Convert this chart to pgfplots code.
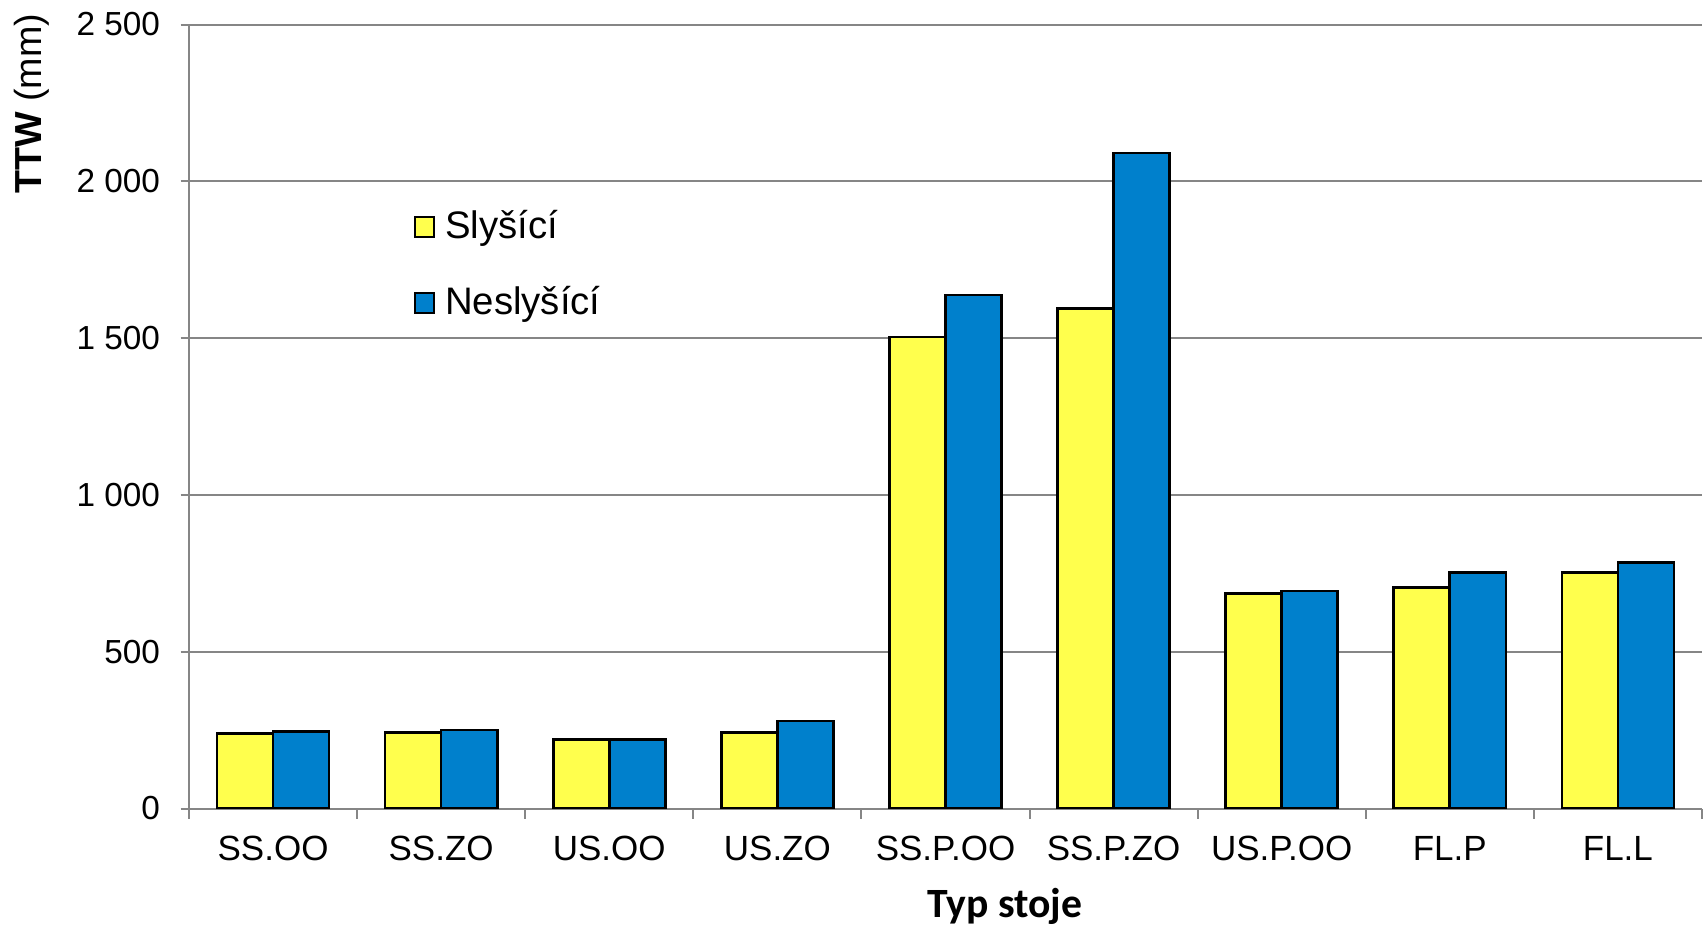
\documentclass[border=0pt]{standalone}
\usepackage{pgfplots}
\pgfplotsset{compat=1.18}
\usepackage{fontspec}
\setmainfont{Liberation Sans}
\newfontfamily\carlito{Carlito}
\definecolor{slys}{HTML}{FFFF4D}
\definecolor{nesl}{HTML}{0080CC}
\definecolor{gridgray}{HTML}{868686}

\begin{document}
\begin{tikzpicture}
% 1 px of the reference = 0.3pt
\path[use as bounding box] (-56.7pt,-36.15pt) rectangle (455.1pt,242.55pt);
\begin{axis}[
    at={(0pt,0pt)}, anchor=south west,
    scale only axis, width=453.9pt, height=235.2pt,
    xmin=-0.5, xmax=8.5, ymin=0, ymax=2500,
    ybar=0pt, bar width=0.3333,
    axis x line*=bottom, axis y line*=left,
    axis line style={gridgray, line width=0.6pt},
    tick align=outside, major tick length=2.5pt, minor tick length=3pt,
    xtick={0,...,8},
    xticklabels={SS.OO,SS.ZO,US.OO,US.ZO,SS.P.OO,SS.P.ZO,US.P.OO,FL.P,FL.L},
    major x tick style={draw=none},
    minor xtick={-0.5,0.5,...,8.5},
    minor x tick style={gridgray, line width=0.6pt},
    ytick={0,500,...,2500},
    yticklabels={0,500,1 000,1 500,2 000,2 500},
    major y tick style={gridgray, line width=0.6pt},
    ymajorgrids, major grid style={gridgray, line width=0.6pt},
    xticklabel style={font=\fontsize{10.5}{12}\selectfont, inner sep=0pt, anchor=base, yshift=-13pt},
    yticklabel style={font=\fontsize{10}{12}\selectfont, inner sep=0pt, anchor=east, xshift=-6pt},
    xlabel={\carlito\bfseries Typ stoje},
    xlabel style={font=\fontsize{12.5}{14}\selectfont, at={(axis description cs:0.5393,-0.1244)}, anchor=center},
    ylabel={\textbf{TTW} (mm)},
    ylabel style={font=\fontsize{11.3}{13}\selectfont, at={(axis description cs:-0.1041,0.8986)}, anchor=center, rotate=0},
    legend style={draw=none, fill=none, inner sep=0pt, font=\fontsize{11.5}{13}\selectfont,
        at={(axis description cs:0.148,0.6935)}, anchor=west,
        nodes={inner sep=0pt}, column sep=2.95pt, row sep=12.9pt},
    legend cell align=left,
    legend image code/.code={\draw[#1, draw=black, line width=0.6pt] (0pt,-2.95pt) rectangle (5.9pt,2.95pt);},
]
\addplot[fill=slys, draw=black, line width=0.8pt] coordinates {
    (0,239) (1,243) (2,221) (3,243) (4,1503) (5,1594) (6,686) (7,705) (8,752)
};
\addlegendentry{Slyšící}
\addplot[fill=nesl, draw=black, line width=0.8pt] coordinates {
    (0,246) (1,250) (2,221) (3,279) (4,1637) (5,2090) (6,694) (7,752) (8,785)
};
\addlegendentry{Neslyšící}
\end{axis}
\end{tikzpicture}
\end{document}
